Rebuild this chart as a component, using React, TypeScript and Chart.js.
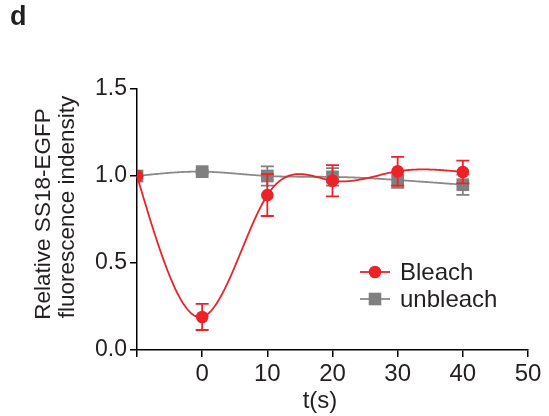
import React, { useEffect, useRef } from 'react';
import { Chart, registerables } from 'chart.js';

Chart.register(...registerables);

// ---- data ----
const timePoints = [-10, 0, 10, 20, 30, 40];
const bleachMean = [1.0, 0.19, 0.89, 0.973, 1.027, 1.023];
const bleachErr = [0, 0.075, 0.12, 0.09, 0.083, 0.065];
const unbleachMean = [1.0, 1.025, 1.0, 0.995, 0.977, 0.95];
const unbleachErr = [0, 0.01, 0.055, 0.05, 0.045, 0.058];
const seriesNames = ['Bleach', 'unbleach'];
const xTickMin = -10;
const xTickMax = 50;
const xStep = 10;
const yTickMin = 0;
const yTickMax = 1.5;
const yStep = 0.5;
const xTitle = 't(s)';
const yTitle = ['Relative SS18-EGFP', 'fluorescence indensity'];
const panelLabel = 'd';

const RED = '#ec2227';
const GREY = '#808080';
const LINE_GREY = '#8a8a8a';
const TEXT = '#231f20';
const FONT = '"Liberation Sans", Arial, sans-serif';

// natural cubic spline second derivatives
function splineM(xs: number[], ys: number[]) {
  const n = xs.length;
  const M = new Array(n).fill(0);
  if (n < 3) return M;
  const a: number[] = [], b: number[] = [], c: number[] = [], d: number[] = [];
  for (let i = 1; i < n - 1; i++) {
    const h0 = xs[i] - xs[i - 1];
    const h1 = xs[i + 1] - xs[i];
    a.push(h0);
    b.push(2 * (h0 + h1));
    c.push(h1);
    d.push(6 * ((ys[i + 1] - ys[i]) / h1 - (ys[i] - ys[i - 1]) / h0));
  }
  const m = b.length;
  for (let i = 1; i < m; i++) {
    const w = a[i] / b[i - 1];
    b[i] -= w * c[i - 1];
    d[i] -= w * d[i - 1];
  }
  const sol = new Array(m).fill(0);
  sol[m - 1] = d[m - 1] / b[m - 1];
  for (let i = m - 2; i >= 0; i--) sol[i] = (d[i] - c[i] * sol[i + 1]) / b[i];
  for (let i = 0; i < m; i++) M[i + 1] = sol[i];
  return M;
}

const seriesInfo = [
  { name: seriesNames[0], mean: bleachMean, err: bleachErr, color: RED, lineColor: RED, style: 'circle' },
  { name: seriesNames[1], mean: unbleachMean, err: unbleachErr, color: GREY, lineColor: LINE_GREY, style: 'rect' },
];

const customPlugin = {
  id: 'custom',
  beforeDatasetDraw(chart: any, args: any) {
    const info = seriesInfo[args.index];
    const xs = chart.scales.x;
    const ys = chart.scales.y;
    const ctx = chart.ctx;
    const M = splineM(timePoints, info.mean);
    ctx.save();
    // spline line
    ctx.strokeStyle = info.lineColor;
    ctx.lineWidth = 1.8;
    ctx.beginPath();
    let first = true;
    for (let i = 0; i < timePoints.length - 1; i++) {
      const x0 = timePoints[i], x1 = timePoints[i + 1];
      const y0 = info.mean[i], y1 = info.mean[i + 1];
      const h = x1 - x0;
      const steps = 60;
      for (let s = 0; s <= steps; s++) {
        const t = x0 + (h * s) / steps;
        const A = (x1 - t) / h;
        const B = (t - x0) / h;
        const v = A * y0 + B * y1 + ((A * A * A - A) * M[i] + (B * B * B - B) * M[i + 1]) * h * h / 6;
        const px = xs.getPixelForValue(t);
        const py = ys.getPixelForValue(v);
        if (first) { ctx.moveTo(px, py); first = false; } else ctx.lineTo(px, py);
      }
    }
    ctx.stroke();
    // error bars
    ctx.strokeStyle = info.color;
    ctx.lineWidth = 1.8;
    for (let i = 0; i < timePoints.length; i++) {
      if (!info.err[i]) continue;
      const px = xs.getPixelForValue(timePoints[i]);
      const top = ys.getPixelForValue(info.mean[i] + info.err[i]);
      const bot = ys.getPixelForValue(info.mean[i] - info.err[i]);
      ctx.beginPath();
      ctx.moveTo(px, top); ctx.lineTo(px, bot);
      ctx.moveTo(px - 6.5, top); ctx.lineTo(px + 6.5, top);
      ctx.moveTo(px - 6.5, bot); ctx.lineTo(px + 6.5, bot);
      ctx.stroke();
    }
    ctx.restore();
  },
  afterDraw(chart: any) {
    const ctx = chart.ctx;
    ctx.save();
    ctx.fillStyle = TEXT;
    // panel label
    ctx.font = `bold 27px ${FONT}`;
    ctx.textAlign = 'left';
    ctx.textBaseline = 'alphabetic';
    ctx.fillText(panelLabel, 10, 25);
    // x title
    ctx.font = `24px ${FONT}`;
    ctx.textAlign = 'center';
    ctx.fillText(xTitle, 320, 408);
    // y title
    ctx.font = `22.5px ${FONT}`;
    const yCenters = [214, 207];
    const yBase = [50, 74];
    yTitle.forEach((line, i) => {
      ctx.save();
      ctx.translate(yBase[i], yCenters[i]);
      ctx.rotate(-Math.PI / 2);
      ctx.textAlign = 'center';
      ctx.textBaseline = 'alphabetic';
      ctx.fillText(line, 0, 0);
      ctx.restore();
    });
    // legend
    const lx0 = 360, lx1 = 390, tx = 400;
    const rows = [272, 299];
    seriesInfo.forEach((s, i) => {
      const y = rows[i];
      ctx.strokeStyle = s.lineColor;
      ctx.lineWidth = 1.8;
      ctx.beginPath();
      ctx.moveTo(lx0, y); ctx.lineTo(lx1, y);
      ctx.stroke();
      ctx.fillStyle = s.color;
      const cx = (lx0 + lx1) / 2;
      if (s.style === 'circle') {
        ctx.beginPath();
        ctx.arc(cx, y, 6.3, 0, Math.PI * 2);
        ctx.fill();
      } else {
        ctx.fillRect(cx - 6.3, y - 6.3, 12.6, 12.6);
      }
      ctx.fillStyle = TEXT;
      ctx.textAlign = 'left';
      ctx.textBaseline = 'middle';
      ctx.font = `24px ${FONT}`;
      ctx.fillText(s.name, tx, y + 1);
    });
    ctx.restore();
  },
};

export default function App() {
  const ref = useRef<HTMLCanvasElement | null>(null);
  useEffect(() => {
    if (!ref.current) return;
    const chart = new Chart(ref.current, {
      type: 'line',
      data: {
        labels: timePoints,
        datasets: seriesInfo.map((s) => ({
          label: s.name,
          data: timePoints.map((t, i) => ({ x: t, y: s.mean[i] })),
          showLine: false,
          pointStyle: s.style as any,
          pointRadius: s.style === 'circle' ? 6.3 : 9,
          pointHoverRadius: s.style === 'circle' ? 6.3 : 9,
          pointBackgroundColor: s.color,
          pointBorderColor: s.color,
          pointBorderWidth: 0,
          borderColor: s.lineColor,
          backgroundColor: s.color,
        })),
      },
      options: {
        responsive: false,
        animation: false,
        events: [],
        layout: { padding: { top: 89, right: 21, left: 0, bottom: 0 } },
        plugins: { legend: { display: false }, tooltip: { enabled: false }, title: { display: false } },
        scales: {
          x: {
            type: 'linear',
            min: xTickMin,
            max: xTickMax,
            afterFit: (scale: any) => { scale.height = 66; },
            ticks: {
              stepSize: xStep,
              maxRotation: 0,
              autoSkip: false,
              padding: 3,
              color: TEXT,
              font: { family: FONT, size: 24 },
              callback: (v: any) => (v === xTickMin ? '' : String(v)),
            },
            grid: { drawOnChartArea: false, drawTicks: true, tickLength: 7, color: '#000', lineWidth: 1.5 },
            border: { display: true, color: '#000', width: 1.5 },
          },
          y: {
            type: 'linear',
            min: yTickMin,
            max: yTickMax,
            afterFit: (scale: any) => { scale.width = 137; },
            ticks: {
              stepSize: yStep,
              padding: 3,
              color: TEXT,
              font: { family: FONT, size: 23 },
              callback: (v: any) => Number(v).toFixed(1),
            },
            grid: { drawOnChartArea: false, drawTicks: true, tickLength: 7, color: '#000', lineWidth: 1.5 },
            border: { display: true, color: '#000', width: 1.5 },
          },
        },
      },
      plugins: [customPlugin],
    });
    return () => chart.destroy();
  }, []);
  return (
    <div style={{ position: 'absolute', left: 0, top: 0, width: 549, height: 416, background: '#fff' }}>
      <canvas ref={ref} width={549} height={416} style={{ display: 'block', width: 549, height: 416 }} />
    </div>
  );
}
